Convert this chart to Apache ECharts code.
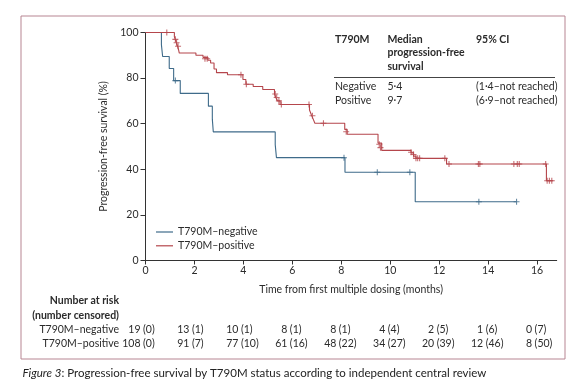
<!DOCTYPE html>
<html><head><meta charset="utf-8">
<script src="https://cdn.jsdelivr.net/npm/echarts@6/dist/echarts.min.js"></script>
<style>html,body{margin:0;padding:0;background:#fff}#c{width:582px;height:392px}</style>
</head><body><div id="c"></div>
<script>
// ---- data ----
const xTicks = [0, 2, 4, 6, 8, 10, 12, 14, 16];
const yTicks = [0, 20, 40, 60, 80, 100];
const seriesNames = ['T790M–negative', 'T790M–positive'];

const negTime = [0, 0.65, 0.70, 0.97, 1.15, 1.42, 2.57, 2.73, 2.77, 5.30, 5.35, 8.15, 11.02, 15.16];
const negSurv = [100, 94.7, 89.5, 84.2, 78.9, 73.3, 67.7, 62.0, 56.4, 50.8, 45.1, 38.7, 25.8, 25.8];
const negCensT = [1.22, 8.11, 9.47, 10.80, 13.62, 15.16];
const negCensS = [78.9, 45.1, 38.7, 38.7, 25.8, 25.8];

const posTime = [0, 1.18, 1.24, 1.30, 1.35, 1.38, 2.06, 2.35, 2.55, 2.66, 2.80, 2.90, 3.35, 3.98, 4.10, 4.40, 4.79, 5.27, 5.32, 5.40, 5.50, 6.70, 6.78, 6.86, 6.92, 8.14, 8.24, 9.50, 9.65, 10.85, 10.95, 11.05, 12.30, 16.38, 16.66];
const posSurv = [100, 98.1, 96.2, 94.3, 92.5, 91.0, 90.0, 89.1, 87.8, 86.6, 84.0, 82.4, 81.5, 79.4, 77.3, 76.3, 75.0, 73.0, 71.5, 70.0, 68.4, 66.0, 63.8, 61.8, 60.2, 57.5, 55.4, 51.5, 48.3, 47.2, 45.8, 44.8, 42.3, 35.0, 35.0];
const posCensT = [0.87, 1.22, 1.27, 1.33, 2.43, 2.52, 3.90, 4.12, 5.30, 5.36, 5.45, 5.55, 6.68, 6.82, 7.27, 8.20, 9.55, 9.60, 10.85, 10.95, 11.05, 11.12, 11.20, 12.23, 12.40, 13.60, 13.66, 15.05, 15.19, 15.27, 16.35, 16.41, 16.50, 16.60];
const posCensS = [100, 97, 95.5, 94, 88.5, 88.5, 81.5, 77.3, 73, 71.5, 70, 68.4, 68.4, 63.5, 60.2, 56.5, 51, 49.5, 47.5, 46.5, 44.8, 44.8, 44.8, 44.8, 42.3, 42.3, 42.3, 42.3, 42.3, 42.3, 42.3, 35, 35, 35];

const riskRowLabels = ['T790M–negative', 'T790M–positive'];
const negRisk = [19, 13, 10, 8, 8, 4, 2, 1, 0];
const negCens = [0, 1, 1, 1, 1, 4, 5, 6, 7];
const posRisk = [108, 91, 77, 61, 48, 34, 20, 12, 8];
const posCens = [0, 7, 10, 16, 22, 27, 39, 46, 50];

const tableHead = ['T790M', 'Median', 'progression-free', 'survival', '95% CI'];
const tableRows = [['Negative', '5·4', '(1·4–not reached)'], ['Positive', '9·7', '(6·9–not reached)']];
const caption = ['Figure 3', ': Progression-free survival by T790M status according to independent central review'];

// ---- style ----
const F = 'Lato';
const TXT = '#2b2b2b';
const BLUE = '#3f6b8a';
const RED = '#b5464c';
const PLUS = 'path://M-0.18,-1H0.18V-0.18H1V0.18H0.18V1H-0.18V0.18H-1V-0.18H-0.18Z';

const zip = (a, b) => a.map((v, i) => [v, b[i]]);
const chart = echarts.init(document.getElementById('c'), null, {renderer: 'canvas'});

const option = {
  animation: false,
  textStyle: {fontFamily: F, color: TXT},
  grid: {left: 145.5, top: 32.5, width: 411.2, height: 228, containLabel: false},
  xAxis: {
    type: 'value', min: 0, max: 16.8,
    name: 'Time from first multiple dosing (months)', nameLocation: 'middle', nameGap: 24,
    nameTextStyle: {fontFamily: F, fontSize: 10.5, color: TXT},
    axisLine: {lineStyle: {color: '#333', width: 1}},
    axisTick: {show: true, length: 4, lineStyle: {color: '#333'}, customValues: xTicks},
    axisLabel: {fontFamily: F, fontSize: 10.5, color: TXT, margin: 5, customValues: xTicks},
    splitLine: {show: false}
  },
  yAxis: {
    type: 'value', min: 0, max: 100, interval: 20,
    name: 'Progression-free survival (%)', nameLocation: 'middle', nameGap: 35, nameRotate: 90,
    nameTextStyle: {fontFamily: F, fontSize: 10.5, color: TXT},
    axisLine: {show: true, lineStyle: {color: '#333', width: 1}},
    axisTick: {show: true, length: 5, lineStyle: {color: '#333'}},
    axisLabel: {fontFamily: F, fontSize: 10.5, color: TXT, margin: 7},
    splitLine: {show: false}
  },
  legend: {
    data: seriesNames.map(n => ({name: n, icon: 'rect'})), orient: 'vertical', left: 156, top: 226.5, padding: 0,
    itemWidth: 17, itemHeight: 1.2, itemGap: 2.8,
    textStyle: {fontFamily: F, fontSize: 10.5, color: TXT}
  },
  series: [
    {name: seriesNames[0], type: 'line', step: 'end', data: zip(negTime, negSurv), symbol: 'none',
     lineStyle: {color: BLUE, width: 1.1}, itemStyle: {color: BLUE}},
    {name: seriesNames[1], type: 'line', step: 'end', data: zip(posTime, posSurv), symbol: 'none',
     lineStyle: {color: RED, width: 1.1}, itemStyle: {color: RED}},
    {name: 'negCens', type: 'scatter', data: zip(negCensT, negCensS), symbol: PLUS, symbolSize: 6,
     itemStyle: {color: BLUE}},
    {name: 'posCens', type: 'scatter', data: zip(posCensT, posCensS), symbol: PLUS, symbolSize: 6,
     itemStyle: {color: RED}}
  ]
};
chart.setOption(option);

// ---- text elements ----
const g = [];
const txt = (x, y, text, o = {}) => g.push({type: 'text', x, y, silent: true, style: Object.assign({
  text, fontFamily: F, fontSize: 10.5, fill: TXT, align: 'left', verticalAlign: 'middle'}, o)});

// frame
g.push({type: 'rect', shape: {x: 21, y: 16, width: 544, height: 343}, silent: true,
  style: {fill: 'none', stroke: '#b78592', lineWidth: 1}});

// top-right table
txt(335, 39.5, tableHead[0], {fontWeight: 'bold'});
txt(387.5, 39.5, tableHead[1], {fontWeight: 'bold'});
txt(387.5, 53, tableHead[2], {fontWeight: 'bold'});
txt(387.5, 66.5, tableHead[3], {fontWeight: 'bold'});
txt(476, 39.5, tableHead[4], {fontWeight: 'bold'});
g.push({type: 'line', silent: true, shape: {x1: 334, y1: 77.5, x2: 555, y2: 77.5}, style: {stroke: '#444', lineWidth: 1}});
tableRows.forEach((r, i) => {
  const y = 86.5 + i * 14;
  txt(335, y, r[0]); txt(387.5, y, r[1]); txt(476, y, r[2]);
});

// risk table
txt(119, 301, 'Number at risk', {align: 'right', fontWeight: 'bold'});
txt(119, 315.5, '(number censored)', {align: 'right', fontWeight: 'bold'});
txt(119, 330, riskRowLabels[0], {align: 'right'});
txt(119, 344, riskRowLabels[1], {align: 'right'});
xTicks.forEach((t, i) => {
  const px = chart.convertToPixel({xAxisIndex: 0}, t);
  txt(px - 5, 330, String(negRisk[i]), {align: 'right'});
  txt(px - 2.5, 330, '(' + negCens[i] + ')');
  txt(px - 5, 344, String(posRisk[i]), {align: 'right'});
  txt(px - 2.5, 344, '(' + posCens[i] + ')');
});

// caption
g.push({type: 'text', x: 22.5, y: 373.5, silent: true, style: {
  text: '{i|' + caption[0] + '}' + caption[1], fontFamily: F, fontSize: 11.5, fill: '#222',
  verticalAlign: 'middle', align: 'left',
  rich: {i: {fontStyle: 'italic', fontFamily: F, fontSize: 11.5, fill: '#222'}}}});

chart.setOption({graphic: {elements: g}});
</script></body></html>
